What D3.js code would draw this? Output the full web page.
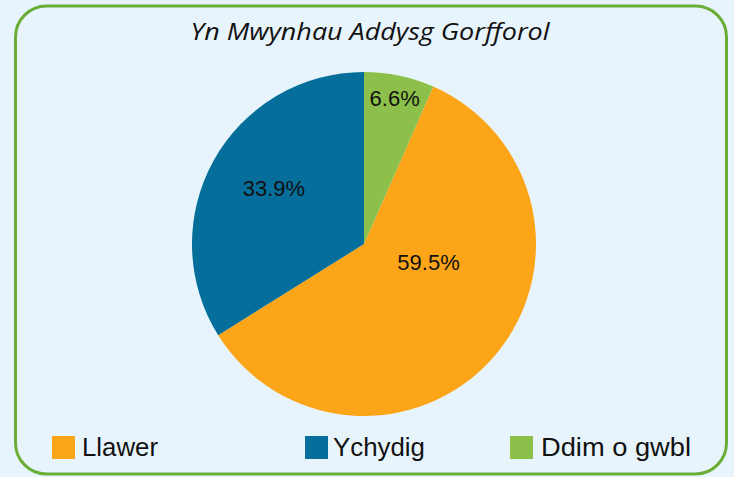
<!DOCTYPE html>
<html>
<head>
<meta charset="utf-8">
<script src="https://cdn.jsdelivr.net/npm/d3@7"></script>
<style>
  html, body { margin: 0; padding: 0; background: #e8f4fc; }
  svg { display: block; }
</style>
</head>
<body>
<script>
// chart data
var title = "Yn Mwynhau Addysg Gorfforol";
var categories = ["Llawer", "Ychydig", "Ddim o gwbl"];
var values = [59.5, 33.9, 6.6];
var colours = ["#fda519", "#066e9a", "#8cc04a"];

var width = 734;
var height = 477;
var cx = 364, cy = 244, radius = 172;

var svg = d3.select("body")
  .append("svg")
  .attr("width", width)
  .attr("height", height);

// frame
svg.append("rect")
  .attr("x", 15.5)
  .attr("y", 6)
  .attr("width", 711)
  .attr("height", 468)
  .attr("rx", 31)
  .attr("ry", 31)
  .style("fill", "#e8f4fc")
  .style("stroke", "#6aae38")
  .style("stroke-width", 3);

svg.append("text")
  .attr("x", 370)
  .attr("y", 40)
  .attr("text-anchor", "middle")
  .attr("textLength", 359)
  .attr("lengthAdjust", "spacingAndGlyphs")
  .style("font-family", "'Open Sans', 'DejaVu Sans', sans-serif")
  .style("font-style", "italic")
  .style("font-size", "23px")
  .style("fill", "#111")
  .text(title);

// slices go clockwise: Llawer, Ychydig, then Ddim o gwbl wrapping past 12 o'clock
var total = d3.sum(values);
var start = 2 * Math.PI * values[2] / total;

var pie = d3.pie()
  .sort(null)
  .startAngle(start)
  .endAngle(start + 2 * Math.PI);

var arcs = pie(values);

var arc = d3.arc()
  .innerRadius(0)
  .outerRadius(radius);

var g = svg.append("g")
  .attr("transform", "translate(" + cx + "," + cy + ")");

g.selectAll("path")
  .data(arcs)
  .enter()
  .append("path")
  .attr("d", arc)
  .style("fill", (d, i) => colours[i]);

// label placement, roughly what the original tool did
var labelRadius = [67, 106, 149];
var labelTurn = [-0.44, 0.05, 0];

g.selectAll("text.lbl")
  .data(arcs)
  .enter()
  .append("text")
  .attr("class", "lbl")
  .attr("x", (d, i) => {
    var a = (d.startAngle + d.endAngle) / 2 + labelTurn[i];
    return labelRadius[i] * Math.sin(a);
  })
  .attr("y", (d, i) => {
    var a = (d.startAngle + d.endAngle) / 2 + labelTurn[i];
    return -labelRadius[i] * Math.cos(a);
  })
  .attr("dy", "0.36em")
  .attr("text-anchor", "middle")
  .style("font-family", "'Liberation Sans', Arial, sans-serif")
  .style("font-size", "22px")
  .style("fill", "#111")
  .text(d => d.data.toFixed(1) + "%");

// legend
var legendPos = [52, 305, 510];

var legend = svg.selectAll("g.legend")
  .data(categories)
  .enter()
  .append("g")
  .attr("class", "legend")
  .attr("transform", (d, i) => "translate(" + legendPos[i] + ",436)");

legend.append("rect")
  .attr("width", 23)
  .attr("height", 23)
  .style("fill", (d, i) => colours[i]);

legend.append("text")
  .attr("x", (d, i) => i == 2 ? 31 : (i == 1 ? 28 : 30))
  .attr("y", 20)
  .attr("textLength", (d, i) => [76, 92, 150][i])
  .attr("lengthAdjust", "spacingAndGlyphs")
  .style("font-family", "'Liberation Sans', Arial, sans-serif")
  .style("font-size", "26px")
  .style("fill", "#111")
  .text(d => d);
</script>
</body>
</html>
